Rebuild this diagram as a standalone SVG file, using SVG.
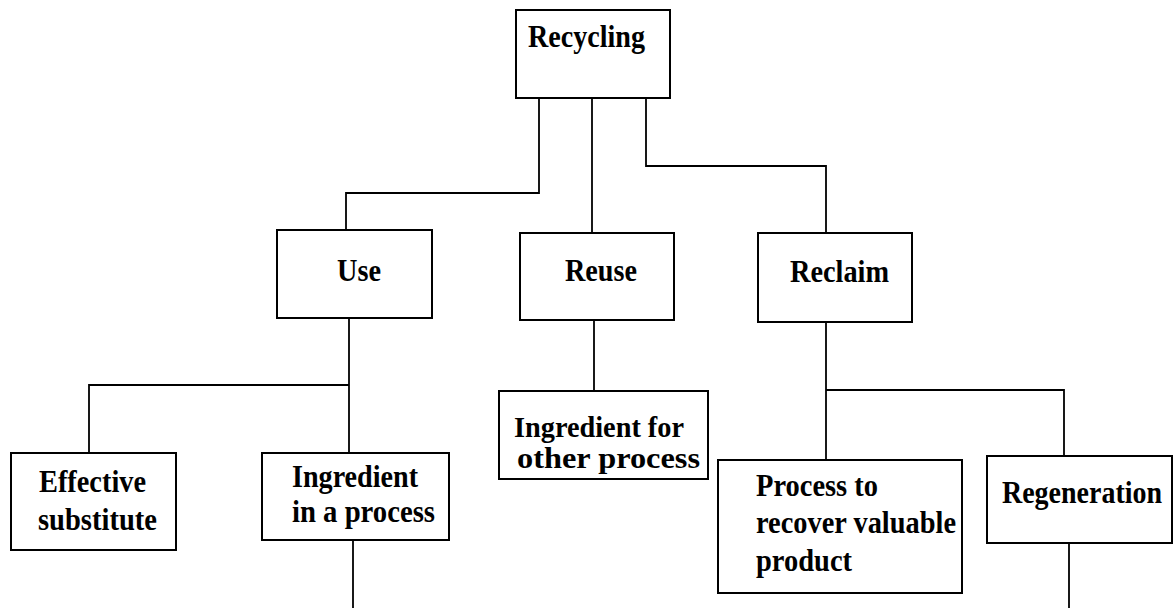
<svg xmlns="http://www.w3.org/2000/svg" width="1174" height="608" viewBox="0 0 1174 608">
<style>
.box{fill:#fff;stroke:#000;stroke-width:2}
.lbl{font-family:"Liberation Serif","Times New Roman",serif;font-weight:bold;font-size:32px;fill:#000}
.sm{font-size:30px}
.con{fill:none;stroke:#000;stroke-width:1.8}
</style>
<rect width="1174" height="608" fill="#fff"/>
<g id="connectors">
<polyline class="con" points="539,98 539,193 346,193 346,230"/>
<polyline class="con" points="592,98 592,233"/>
<polyline class="con" points="646,98 646,166 826,166 826,233"/>
<polyline class="con" points="349,318 349,453"/>
<polyline class="con" points="89,453 89,385 349,385"/>
<polyline class="con" points="594,320 594,391"/>
<polyline class="con" points="826,322 826,460"/>
<polyline class="con" points="826,390 1064,390 1064,456"/>
<polyline class="con" points="353,540 353,608"/>
<polyline class="con" points="1069,543 1069,608"/>
</g>
<g id="recycling">
<rect class="box" x="516" y="10" width="154" height="88"/>
<text class="lbl" x="528" y="47" textLength="117" lengthAdjust="spacingAndGlyphs">Recycling</text>
</g>
<g id="use">
<rect class="box" x="277" y="230" width="155" height="88"/>
<text class="lbl" x="337" y="281" textLength="44" lengthAdjust="spacingAndGlyphs">Use</text>
</g>
<g id="reuse">
<rect class="box" x="520" y="233" width="154" height="87"/>
<text class="lbl" x="565" y="281" textLength="72" lengthAdjust="spacingAndGlyphs">Reuse</text>
</g>
<g id="reclaim">
<rect class="box" x="758" y="233" width="154" height="89"/>
<text class="lbl" x="790" y="282" textLength="99" lengthAdjust="spacingAndGlyphs">Reclaim</text>
</g>
<g id="ingredient-other">
<rect class="box" x="499" y="391" width="209" height="88"/>
<text class="lbl sm" x="514" y="437" textLength="170" lengthAdjust="spacingAndGlyphs">Ingredient for</text>
<text class="lbl sm" x="517" y="468" textLength="183" lengthAdjust="spacingAndGlyphs">other process</text>
</g>
<g id="effective">
<rect class="box" x="11" y="453" width="165" height="97"/>
<text class="lbl" x="39" y="492" textLength="107" lengthAdjust="spacingAndGlyphs">Effective</text>
<text class="lbl" x="38" y="530" textLength="119" lengthAdjust="spacingAndGlyphs">substitute</text>
</g>
<g id="ingredient-process">
<rect class="box" x="262" y="453" width="187" height="87"/>
<text class="lbl" x="292" y="487" textLength="126" lengthAdjust="spacingAndGlyphs">Ingredient</text>
<text class="lbl" x="292" y="522" textLength="143" lengthAdjust="spacingAndGlyphs">in a process</text>
</g>
<g id="process-recover">
<rect class="box" x="718" y="460" width="244" height="133"/>
<text class="lbl" x="756" y="496" textLength="122" lengthAdjust="spacingAndGlyphs">Process to</text>
<text class="lbl" x="756" y="533" textLength="200" lengthAdjust="spacingAndGlyphs">recover valuable</text>
<text class="lbl" x="756" y="571" textLength="96" lengthAdjust="spacingAndGlyphs">product</text>
</g>
<g id="regeneration">
<rect class="box" x="987" y="456" width="185" height="87"/>
<text class="lbl" x="1002" y="503" textLength="160" lengthAdjust="spacingAndGlyphs">Regeneration</text>
</g>
</svg>
